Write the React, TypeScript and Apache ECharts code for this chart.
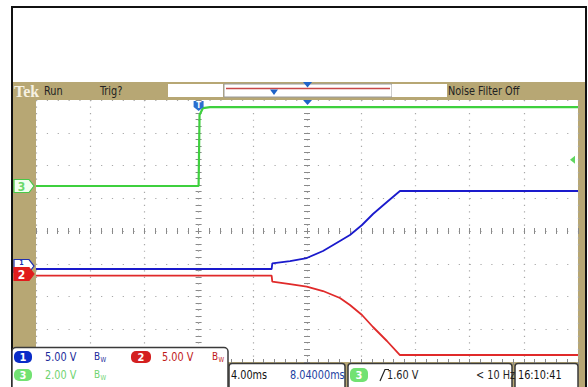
import React, { useEffect, useRef } from "react";
import * as echarts from "echarts";

const ch1Time = [-12, 5.39, 5.44, 6.75, 7.98, 9.18, 10.43, 11.17, 12.06, 12.87, 13.9, 14.86, 28];
const ch1Volts = [-0.46, -0.46, 0.41, 0.76, 1.22, 2.29, 3.82, 4.73, 6.26, 7.94, 9.77, 11.45, 11.45];
const ch2Time = [-12, 5.39, 5.44, 6.75, 7.98, 9.18, 10.43, 11.17, 12.06, 12.87, 13.9, 14.86, 28];
const ch2Volts = [-0.26, -0.26, -1.18, -1.53, -1.94, -2.6, -3.66, -4.73, -6.26, -8.09, -10.23, -12.37, -12.37];
const ch3Time = [-12, 0, 0.07, 0.32, 0.84, 28];
const ch3Volts = [0, 0, 4.34, 4.76, 4.82, 4.82];

// Scale settings (V/div) and ground offsets (divisions from bottom)
const voltsPerDiv = [5, 5, 2];
const groundDiv = [2.931, 2.687, 5.374];
const timeRange = [-12, 28];
const timePerDiv = 4;
const triggerLevel = 1.6;
const horizPosition = 8.04;

const TAN = "#b7a774";
const FONT = "'Liberation Sans Narrow', 'DejaVu Sans Condensed', 'Roboto Condensed', Roboto, sans-serif";
const BLUE = "#1a1acc";
const RED = "#e02a2a";
const GREEN = "#3ed03e";

const G = { left: 36, top: 100, width: 542, height: 262 };

function pairs(t: number[], v: number[]) {
  return t.map((x, i) => [x, v[i]]);
}

function chAxis(i: number) {
  const min = -groundDiv[i] * voltsPerDiv[i];
  return { type: "value", gridIndex: 0, show: false, min, max: min + 8 * voltsPerDiv[i] };
}

const tickStyle = { color: "#8a8a8a", width: 1 };

function borderX(position: string) {
  return {
    type: "value", gridIndex: 0, position, min: timeRange[0], max: timeRange[1], interval: timePerDiv,
    axisLine: { show: false }, axisLabel: { show: false },
    axisTick: { show: true, inside: true, length: 3, lineStyle: tickStyle },
    minorTick: { show: true, splitNumber: 5, length: 3, lineStyle: tickStyle },
    splitLine: { show: false },
  };
}
function borderY(position: string) {
  return {
    type: "value", gridIndex: 0, position, min: 0, max: 8, interval: 1,
    axisLine: { show: false }, axisLabel: { show: false },
    axisTick: { show: true, inside: true, length: 3, lineStyle: tickStyle },
    minorTick: { show: true, splitNumber: 5, length: 3, lineStyle: tickStyle },
    splitLine: { show: false },
  };
}

function txt(x: number, y: number, text: string, fill: string, size = 12, extra: any = {}) {
  return {
    type: "text", x, y, z: 110, scaleX: extra.scaleX ?? 0.9,
    style: { text, fill, font: `${extra.weight || "normal"} ${size}px ${extra.family || FONT}`, textVerticalAlign: "middle", textAlign: extra.align || "left" },
  };
}

function badge(x: number, y: number, w: number, h: number, fill: string, label: string) {
  return [
    { type: "rect", z: 110, shape: { x, y, width: w, height: h, r: 5 }, style: { fill } },
    txt(x + w / 2, y + h / 2 + 0.5, label, "#ffffff", 11, { align: "center", weight: "bold", scaleX: 1 }),
  ];
}

function leftMarker(y: number, fill: string, stroke: string, label: string, labelColor: string, size = 12, dy = 0.5) {
  const x = 14;
  return [
    {
      type: "polygon", z: 50,
      shape: { points: [[x, y - 6.5], [x + 15, y - 6.5], [x + 20, y], [x + 15, y + 6.5], [x, y + 6.5]] },
      style: { fill, stroke, lineWidth: 1.2 },
    },
    { ...txt(x + 7.5, y + dy, label, labelColor, size, { align: "center", weight: "bold", scaleX: 1 }), z: 51 },
  ];
}

export default function App() {
  const ref = useRef<HTMLDivElement>(null);
  useEffect(() => {
    if (!ref.current) return;
    const chart = echarts.init(ref.current, undefined, { renderer: "svg" });
    chart.setOption({
      animation: false,
      backgroundColor: "transparent",
      grid: [
        { ...G, show: false },
        { left: G.left, top: G.top + G.height / 2, width: G.width, height: 0, show: false },
        { left: G.left + G.width / 2, top: G.top, width: 0, height: G.height, show: false },
      ],
      xAxis: [
        {
          ...borderX("bottom"),
          splitLine: { show: true, lineStyle: { color: "#a8a8a8", width: 1.2, type: [1.2, 5.35] } },
        },
        borderX("top"),
        { ...borderX("bottom"), gridIndex: 1, axisTick: { show: true, inside: false, length: 3, lineStyle: tickStyle }, minorTick: { show: true, splitNumber: 5, length: 3, lineStyle: tickStyle } },
        { ...borderX("top"), gridIndex: 1, axisTick: { show: true, inside: false, length: 3, lineStyle: tickStyle }, minorTick: { show: true, splitNumber: 5, length: 3, lineStyle: tickStyle } },
        { type: "value", gridIndex: 2, show: false, min: 0, max: 1 },
      ],
      yAxis: [
        {
          ...borderY("left"),
          splitLine: { show: true, lineStyle: { color: "#a8a8a8", width: 1.2, type: [1.2, 9.64] } },
        },
        borderY("right"),
        chAxis(0),
        chAxis(1),
        chAxis(2),
        { type: "value", gridIndex: 1, show: false, min: 0, max: 1 },
        { ...borderY("left"), gridIndex: 2, axisTick: { show: true, inside: false, length: 3, lineStyle: tickStyle }, minorTick: { show: true, splitNumber: 5, length: 3, lineStyle: tickStyle } },
        { ...borderY("right"), gridIndex: 2, axisTick: { show: true, inside: false, length: 3, lineStyle: tickStyle }, minorTick: { show: true, splitNumber: 5, length: 3, lineStyle: tickStyle } },
      ],
      series: [
        { type: "line", name: "CH3", xAxisIndex: 0, yAxisIndex: 4, data: pairs(ch3Time, ch3Volts), showSymbol: false, lineStyle: { color: GREEN, width: 2.2 }, z: 3 },
        { type: "line", name: "CH2", xAxisIndex: 0, yAxisIndex: 3, data: pairs(ch2Time, ch2Volts), showSymbol: false, lineStyle: { color: RED, width: 1.8 }, z: 4 },
        { type: "line", name: "CH1", xAxisIndex: 0, yAxisIndex: 2, data: pairs(ch1Time, ch1Volts), showSymbol: false, lineStyle: { color: BLUE, width: 1.8 }, z: 5 },
      ],
    });

    const gy = (axis: number, v: number) => chart.convertToPixel({ yAxisIndex: axis } as any, v) as number;
    const gx = (v: number) => chart.convertToPixel({ xAxisIndex: 0 } as any, v) as number;
    const g1 = gy(2, 0), g2 = gy(3, 0), g3 = gy(4, 0);
    const trigY = gy(4, triggerLevel);
    const trigX = gx(0);
    const posX = gx(horizPosition);
    const right = G.left + G.width;

    const elements: any[] = [
      // frame and backgrounds
      { type: "rect", z: -20, shape: { x: 0, y: 0, width: 588, height: 387 }, style: { fill: "#ffffff" } },
      { type: "rect", z: -19, shape: { x: 12, y: 7, width: 574, height: 395 }, style: { fill: "#ffffff", stroke: "#111111", lineWidth: 2 } },
      { type: "rect", z: -18, shape: { x: 13, y: 82, width: 572, height: 310 }, style: { fill: TAN } },
      { type: "rect", z: -17, shape: { x: G.left, y: G.top, width: G.width, height: G.height }, style: { fill: "#ffffff" } },

      // header
      txt(14, 91, "Tek", "#f6f1e2", 16, { weight: "bold", family: "'Liberation Serif', 'DejaVu Serif', serif", scaleX: 1 }),
      txt(44, 91, "Run", "#222222", 12),
      txt(100, 91, "Trig?", "#222222", 12),
      { type: "rect", z: 100, shape: { x: 168, y: 84, width: 55, height: 13 }, style: { fill: "#ffffff" } },
      { type: "rect", z: 100, shape: { x: 224, y: 84, width: 168, height: 13 }, style: { fill: "#ffffff", stroke: "#9a9a9a", lineWidth: 1 } },
      { type: "line", z: 101, shape: { x1: 226, y1: 88.5, x2: 390, y2: 88.5 }, style: { stroke: "#c84848", lineWidth: 1.6 } },
      { type: "polygon", z: 102, shape: { points: [[270, 89.5], [278, 89.5], [274, 95]] }, style: { fill: "#1e63c8" } },
      { type: "polygon", z: 102, shape: { points: [[posX - 4.5, 82], [posX + 4.5, 82], [posX, 87.5]] }, style: { fill: "#1e63c8" } },
      { type: "rect", z: 100, shape: { x: 392, y: 84, width: 55, height: 13 }, style: { fill: "#ffffff" } },
      txt(448, 91, "Noise Filter Off", "#222222", 12),

      // trigger markers on the graticule
      { type: "polygon", z: 60, shape: { points: [[posX - 4.5, G.top], [posX + 4.5, G.top], [posX, G.top + 5]] }, style: { fill: "#1e63c8" } },
      { type: "polygon", z: 60, shape: { points: [[trigX - 5, G.top + 1], [trigX + 5, G.top + 1], [trigX + 5, G.top + 7], [trigX, G.top + 11], [trigX - 5, G.top + 7]] }, style: { fill: "#2a6fd0" } },
      { ...txt(trigX, G.top + 5.5, "T", "#ffffff", 8, { align: "center", weight: "bold", scaleX: 1 }), z: 61 },
      { type: "polygon", z: 60, shape: { points: [[right - 8, trigY], [right - 3, trigY - 4], [right - 3, trigY + 4]] }, style: { fill: "#5fd65f" } },

      // channel ground markers
      ...leftMarker(g3, "#f2fff0", "#48c848", "3", "#6ad86a"),
      ...leftMarker(g1, "#ffffff", "#2030b0", "1", "#2030b0", 7, -3),
      ...leftMarker(g2, "#e01c1c", "#e01c1c", "2", "#ffffff"),

      // bottom readouts
      { type: "rect", z: 105, shape: { x: 12, y: 347.5, width: 216, height: 45, r: 4 }, style: { fill: "#ffffff", stroke: "#3a3a3a", lineWidth: 1.5 } },
      ...badge(14, 351, 18, 12, "#0a2cc8", "1"),
      txt(45, 357, "5.00 V", "#1a2a9a", 12),
      txt(94, 356, "B", "#1a2a9a", 11),
      txt(100.5, 359.5, "W", "#1a2a9a", 7),
      ...badge(131, 351, 20, 12, "#d42020", "2"),
      txt(162, 357, "5.00 V", "#c01818", 12),
      txt(212, 356, "B", "#c01818", 11),
      txt(218.5, 359.5, "W", "#c01818", 7),
      ...badge(14, 369, 18, 12, "#72e272", "3"),
      txt(45, 375, "2.00 V", "#6fd36f", 12),
      txt(94, 374, "B", "#6fd36f", 11),
      txt(100.5, 377.5, "W", "#6fd36f", 7),

      { type: "rect", z: 105, shape: { x: 229, y: 363.5, width: 116, height: 30, r: 3 }, style: { fill: "#ffffff", stroke: "#3a3a3a", lineWidth: 1.5 } },
      txt(231, 375, "4.00ms", "#111111", 12),
      txt(290, 375, "8.04000ms", "#2040a0", 12),

      { type: "rect", z: 105, shape: { x: 348, y: 363.5, width: 164, height: 30, r: 3 }, style: { fill: "#ffffff", stroke: "#3a3a3a", lineWidth: 1.5 } },
      ...badge(350, 368, 18, 14, "#72e272", "3"),
      { type: "polyline", z: 110, shape: { points: [[380, 381], [385, 369.5], [389, 369.5]] }, style: { stroke: "#222222", lineWidth: 1.2, fill: null } },
      txt(387, 375, "1.60 V", "#222222", 12),
      txt(476, 375, "< 10 Hz", "#222222", 12),

      { type: "rect", z: 105, shape: { x: 515, y: 363.5, width: 63, height: 30, r: 3 }, style: { fill: "#ffffff", stroke: "#3a3a3a", lineWidth: 1.5 } },
      txt(518, 375, "16:10:41", "#111111", 12),
    ];
    chart.setOption({ graphic: elements });

    return () => chart.dispose();
  }, []);
  return <div ref={ref} style={{ width: 588, height: 387, position: "absolute", left: 0, top: 0 }} />;
}
